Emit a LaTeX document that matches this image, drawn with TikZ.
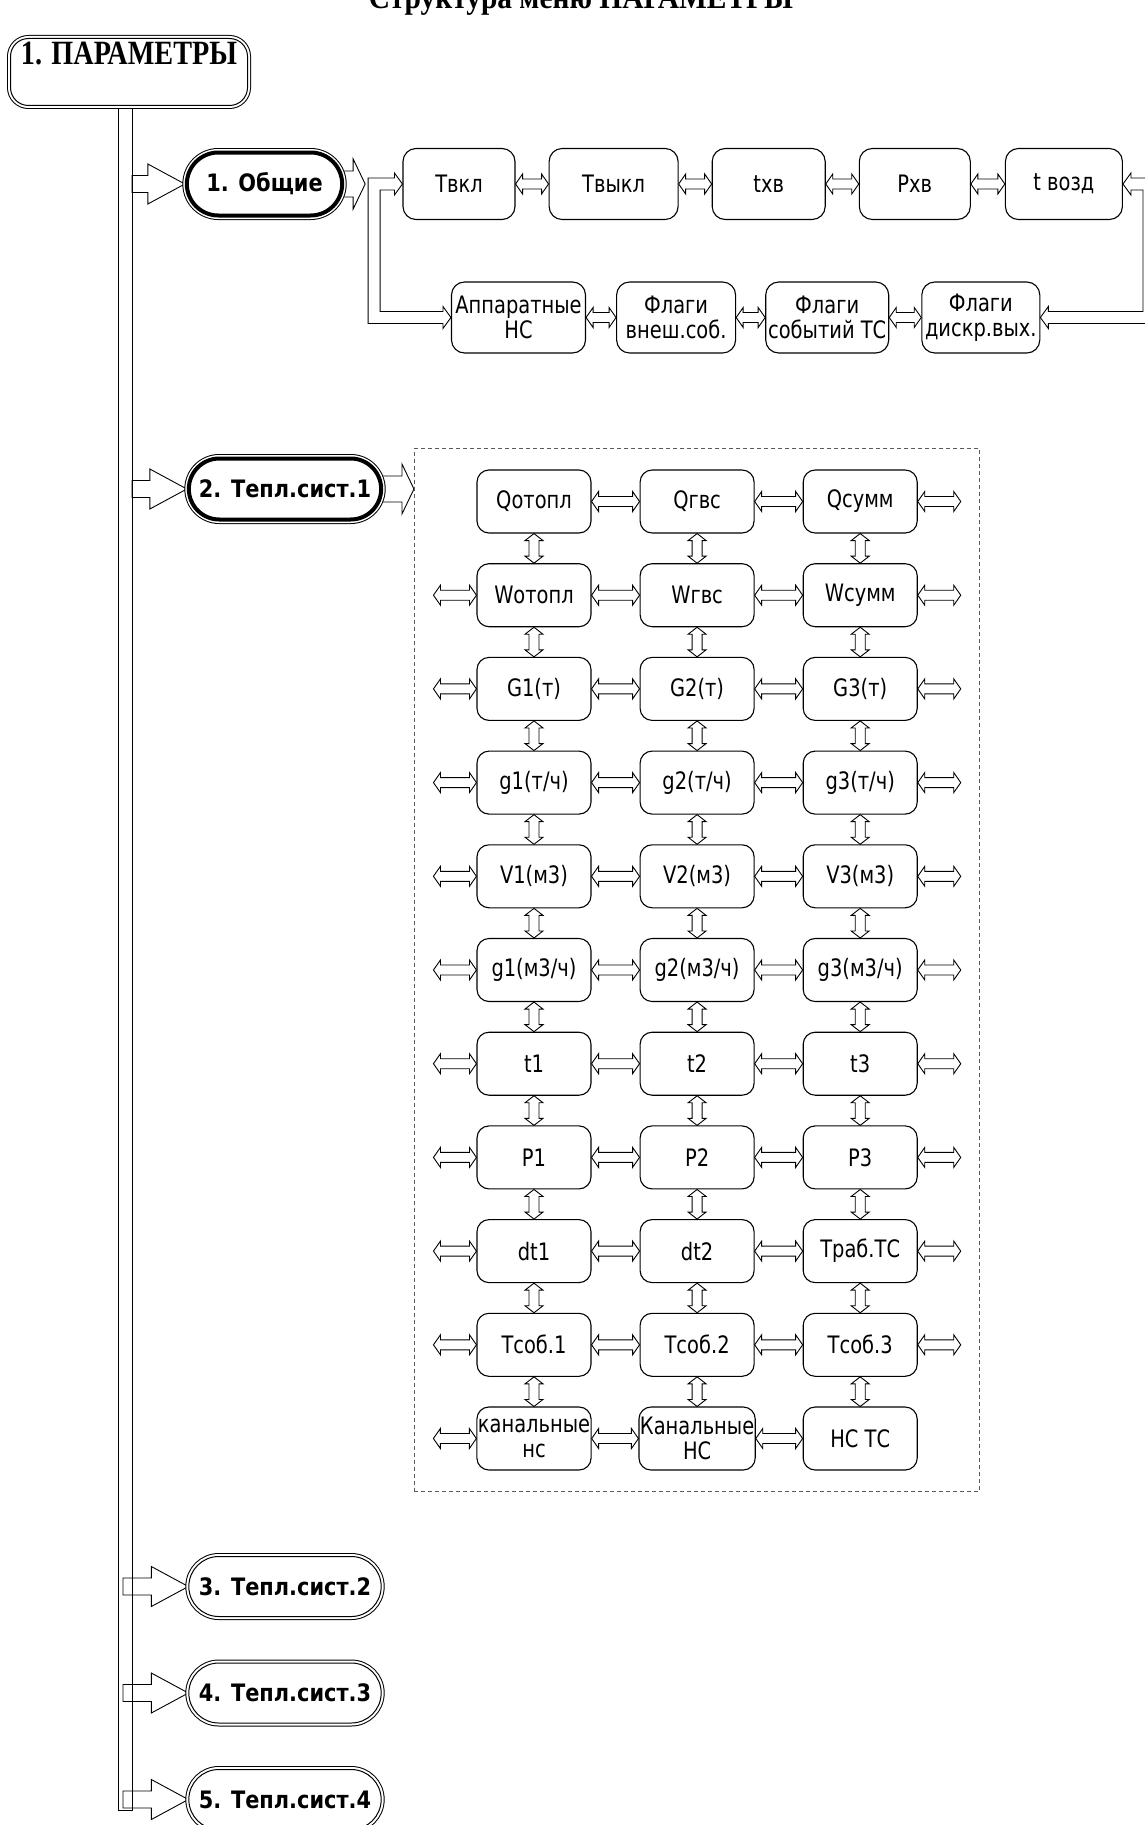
\documentclass[tikz,border=0pt]{standalone}
\usepackage{fontspec}
\usepackage{tikz}
\usetikzlibrary{positioning,calc,fit,backgrounds,shapes.misc}
\newfontfamily\menufont{DejaVu Sans}[FakeStretch=0.81]
\newfontfamily\subfont{DejaVu Sans}[FakeStretch=0.87]
\newfontfamily\headfont{Liberation Serif}[FakeStretch=0.92]
\newfontfamily\rootfont{Liberation Serif}[FakeStretch=0.83]
\definecolor{Frame}{HTML}{5A5A5A}

\begin{document}
\begin{tikzpicture}[
  item/.style={draw,rounded corners=12pt,line width=1.1pt,minimum width=114pt,minimum height=63pt,align=center,inner sep=1pt,font=\menufont\fontsize{24}{25}\selectfont},
  topbox/.style={item,minimum height=71pt,rounded corners=13pt},
  menu/.style={rounded rectangle,draw,fill=white,minimum width=199pt,minimum height=60pt,font=\subfont\bfseries\fontsize{24}{26}\selectfont},
  sub/.style={menu,line width=1pt,preaction={draw,line width=7pt},preaction={draw,white,line width=5pt}},
  subsel/.style={menu,line width=4pt,preaction={draw,line width=9pt},preaction={draw,white,line width=7pt}},
  root/.style={draw,fill=white,rounded corners=18pt,line width=1pt,minimum width=237pt,text height=17pt,text depth=31pt,inner ysep=9.5pt,font=\rootfont\bfseries\fontsize{34}{36}\selectfont,preaction={draw,line width=7pt},preaction={draw,white,line width=5pt}},
  title/.style={inner sep=0pt,font=\headfont\bfseries\fontsize{32}{34}\selectfont},
  frame/.style={draw=Frame,line width=0.8pt,dash pattern=on 4pt off 3pt,inner xsep=62pt,inner ysep=21pt},
  pipe/.style={line width=0.9pt,line join=miter},
  % hollow double arrows between boxes
  lr/.style={pipe,to path={let \p1=(\tikztostart),\p2=(\tikztotarget) in
    (\x1,\y1) -- (\x1+7pt,\y1+10pt) -- (\x1+7pt,\y1+5pt) -- (\x2-7pt,\y1+5pt) -- (\x2-7pt,\y1+10pt) -- (\x2,\y1)
    -- (\x2-7pt,\y1-10pt) -- (\x2-7pt,\y1-5pt) -- (\x1+7pt,\y1-5pt) -- (\x1+7pt,\y1-10pt) -- cycle}},
  ud/.style={pipe,to path={let \p1=(\tikztostart),\p2=(\tikztotarget) in
    (\x1,\y1) -- (\x1+9pt,\y1-7pt) -- (\x1+5pt,\y1-7pt) -- (\x1+5pt,\y2+7pt) -- (\x1+9pt,\y2+7pt) -- (\x1,\y2)
    -- (\x1-9pt,\y2+7pt) -- (\x1-5pt,\y2+7pt) -- (\x1-5pt,\y1-7pt) -- (\x1-9pt,\y1-7pt) -- cycle}},
  branch/.style={pipe,to path={let \p1=(\tikztostart),\p2=(\tikztotarget) in
    (\x1,\y1+8.5pt) -- (\x2-37pt,\y1+8.5pt) -- (\x2-37pt,\y1+20pt) -- (\x2,\y1)
    -- (\x2-37pt,\y1-20pt) -- (\x2-37pt,\y1-8.5pt) -- (\x1,\y1-8.5pt) -- cycle}},
  outarr/.style={pipe,to path={let \p1=(\tikztostart),\p2=(\tikztotarget) in
    (\x1-3pt,\y1+13pt) -- (\x2-12pt,\y1+13pt) -- (\x2-12pt,\y1+25pt) -- (\x2,\y1)
    -- (\x2-12pt,\y1-25pt) -- (\x2-12pt,\y1-13pt) -- (\x1-3pt,\y1-13pt)}}
]
\useasboundingbox (0,0) rectangle (1145pt,-1825pt);

\node[title,anchor=base] (ttl) at (581pt,-9pt) {Структура меню ПАРАМЕТРЫ};
\node[root] (par) at (129pt,-72pt) {1. ПАРАМЕТРЫ};

% submenus
\node[subsel,minimum width=162pt,minimum height=63pt] (obsh) at (264.5pt,-184pt) {1. Общие};
\node[subsel,minimum height=61pt] (ts1) at (285pt,-489pt) {2. Тепл.сист.1};
\node[sub] (ts2) at (285pt,-1586.5pt) {3. Тепл.сист.2};
\node[sub,below=45.5pt of ts2] (ts3) {4. Тепл.сист.3};
\node[sub,below=45.5pt of ts3] (ts4) {5. Тепл.сист.4};

\coordinate (tr) at ([xshift=3pt]par.south);
\coordinate (tb) at ([xshift=-9pt]tr);
\coordinate (tend) at (118pt,-1810pt);
\coordinate[right=21pt of obsh] (jn);

% general settings
\node[topbox,minimum width=112pt] (tvkl) at (459pt,-184pt) {Твкл};
\node[topbox,minimum width=129pt,right=33pt of tvkl] (tvykl) {Твыкл};
\node[topbox,minimum width=113pt,right=33pt of tvykl] (thv) {tхв};
\node[topbox,minimum width=111pt,right=33pt of thv] (rhv) {Рхв};
\node[topbox,minimum width=117pt,right=34pt of rhv] (tvozd) {t возд};
\node[topbox,minimum width=134pt] (appar) at (518.5pt,-317.5pt) {Аппаратные\\НС};
\node[topbox,minimum width=119pt,right=30pt of appar] (fvnesh) {Флаги\\внеш.соб.};
\node[topbox,minimum width=123pt,right=29pt of fvnesh] (fsob) {Флаги\\событий ТС};
\node[topbox,minimum width=118pt,right=32pt of fsob] (fdiskr) {Флаги\\дискр.вых.};

% heat system 1
\node[item] (q1) at (534pt,-501.5pt) {Qотопл};
\node[item,right=48pt of q1] (q2) {Qгвс};
\node[item,right=48pt of q2] (q3) {Qсумм};
\node[item,below=29.6pt of q1] (w1) {Wотопл};
\node[item,below=29.6pt of q2] (w2) {Wгвс};
\node[item,below=29.6pt of q3] (w3) {Wсумм};
\node[item,below=29.6pt of w1] (g1) {G1(т)};
\node[item,below=29.6pt of w2] (g2) {G2(т)};
\node[item,below=29.6pt of w3] (g3) {G3(т)};
\node[item,below=29.6pt of g1] (gt1) {g1(т/ч)};
\node[item,below=29.6pt of g2] (gt2) {g2(т/ч)};
\node[item,below=29.6pt of g3] (gt3) {g3(т/ч)};
\node[item,below=29.6pt of gt1] (v1) {V1(м3)};
\node[item,below=29.6pt of gt2] (v2) {V2(м3)};
\node[item,below=29.6pt of gt3] (v3) {V3(м3)};
\node[item,below=29.6pt of v1] (gm1) {g1(м3/ч)};
\node[item,below=29.6pt of v2] (gm2) {g2(м3/ч)};
\node[item,below=29.6pt of v3] (gm3) {g3(м3/ч)};
\node[item,below=29.6pt of gm1] (t1) {t1};
\node[item,below=29.6pt of gm2] (t2) {t2};
\node[item,below=29.6pt of gm3] (t3) {t3};
\node[item,below=29.6pt of t1] (p1) {P1};
\node[item,below=29.6pt of t2] (p2) {P2};
\node[item,below=29.6pt of t3] (p3) {P3};
\node[item,below=29.6pt of p1] (d1) {dt1};
\node[item,below=29.6pt of p2] (d2) {dt2};
\node[item,below=29.6pt of p3] (d3) {Траб.ТС};
\node[item,below=29.6pt of d1] (s1) {Тсоб.1};
\node[item,below=29.6pt of d2] (s2) {Тсоб.2};
\node[item,below=29.6pt of d3] (s3) {Тсоб.3};
\node[item,below=29.6pt of s1] (k1) {канальные\\нс};
\node[item,below=29.6pt of s2] (k2) {Канальные\\НС};
\node[item,below=29.6pt of s3] (k3) {НС ТС};
\node[frame,fit=(q1)(q3)(k1)] (box) {};

% free ends of the outer arrows
\coordinate[right=43pt of q3] (qr);
\coordinate[left=43pt of w1] (wl);   \coordinate[right=43pt of w3] (wr);
\coordinate[left=43pt of g1] (gl);   \coordinate[right=43pt of g3] (gr);
\coordinate[left=43pt of gt1] (gtl); \coordinate[right=43pt of gt3] (gtr);
\coordinate[left=43pt of v1] (vl);   \coordinate[right=43pt of v3] (vr);
\coordinate[left=43pt of gm1] (gml); \coordinate[right=43pt of gm3] (gmr);
\coordinate[left=43pt of t1] (tl);   \coordinate[right=43pt of t3] (trr);
\coordinate[left=43pt of p1] (pl);   \coordinate[right=43pt of p3] (pr);
\coordinate[left=43pt of d1] (dl);   \coordinate[right=43pt of d3] (dr);
\coordinate[left=43pt of s1] (sl);   \coordinate[right=43pt of s3] (sr);
\coordinate[left=43pt of k1] (kl);

\begin{scope}[on background layer]
\draw[pipe] (tr) -- (tr |- tend) -- (tend) -- ([xshift=-11pt]par.south);
\draw[branch] (obsh -| tr) to (obsh.west);
\draw[branch] (ts1 -| tr) to (ts1.west);
\draw[branch] (tb |- ts2) to (ts2.west);
\draw[branch] (tb |- ts3) to (ts3.west);
\draw[branch] (tb |- ts4) to (ts4.west);
\draw[outarr] (obsh.east) to (jn);
\draw[outarr] (ts1.east) to (ts1.east -| box.west);
\end{scope}

\draw[pipe] let \p1=(tvkl.west), \p2=(appar.west), \p3=(jn) in
  (\x3+3pt,\y1+6pt) -- (\x1-8pt,\y1+6pt) -- (\x1-8pt,\y1+11pt) -- (\p1) -- (\x1-8pt,\y1-11pt) -- (\x1-8pt,\y1-6pt)
  -- (\x3+15pt,\y1-6pt) -- (\x3+15pt,\y2+6pt) -- (\x2-8pt,\y2+6pt) -- (\x2-8pt,\y2+11pt) -- (\p2)
  -- (\x2-8pt,\y2-11pt) -- (\x2-8pt,\y2-6pt) -- (\x3+3pt,\y2-6pt) -- cycle;
\draw[pipe] let \p1=(tvozd.east), \p2=(fdiskr.east) in
  (\p1) -- (\x1+8pt,\y1+11pt) -- (\x1+8pt,\y1+6pt) -- (\x1+32pt,\y1+6pt) -- (\x1+32pt,\y2-6pt)
  -- (\x2+8pt,\y2-6pt) -- (\x2+8pt,\y2-11pt) -- (\p2) -- (\x2+8pt,\y2+11pt) -- (\x2+8pt,\y2+6pt)
  -- (\x1+20pt,\y2+6pt) -- (\x1+20pt,\y1-6pt) -- (\x1+8pt,\y1-6pt) -- (\x1+8pt,\y1-11pt) -- cycle;
\draw[lr] (tvkl.east) to (tvykl.west) (tvykl.east) to (thv.west) (thv.east) to (rhv.west) (rhv.east) to (tvozd.west);
\draw[lr] (appar.east) to (fvnesh.west) (fvnesh.east) to (fsob.west) (fsob.east) to (fdiskr.west);

\draw[lr] (q1.east) to (q2.west) (q2.east) to (q3.west) (q3.east) to (qr);
\draw[lr] (wl) to (w1.west) (w1.east) to (w2.west) (w2.east) to (w3.west) (w3.east) to (wr);
\draw[lr] (gl) to (g1.west) (g1.east) to (g2.west) (g2.east) to (g3.west) (g3.east) to (gr);
\draw[lr] (gtl) to (gt1.west) (gt1.east) to (gt2.west) (gt2.east) to (gt3.west) (gt3.east) to (gtr);
\draw[lr] (vl) to (v1.west) (v1.east) to (v2.west) (v2.east) to (v3.west) (v3.east) to (vr);
\draw[lr] (gml) to (gm1.west) (gm1.east) to (gm2.west) (gm2.east) to (gm3.west) (gm3.east) to (gmr);
\draw[lr] (tl) to (t1.west) (t1.east) to (t2.west) (t2.east) to (t3.west) (t3.east) to (trr);
\draw[lr] (pl) to (p1.west) (p1.east) to (p2.west) (p2.east) to (p3.west) (p3.east) to (pr);
\draw[lr] (dl) to (d1.west) (d1.east) to (d2.west) (d2.east) to (d3.west) (d3.east) to (dr);
\draw[lr] (sl) to (s1.west) (s1.east) to (s2.west) (s2.east) to (s3.west) (s3.east) to (sr);
\draw[lr] (kl) to (k1.west) (k1.east) to (k2.west) (k2.east) to (k3.west);

\draw[ud] (q1.south) to (w1.north) (w1.south) to (g1.north) (g1.south) to (gt1.north) (gt1.south) to (v1.north)
  (v1.south) to (gm1.north) (gm1.south) to (t1.north) (t1.south) to (p1.north) (p1.south) to (d1.north)
  (d1.south) to (s1.north) (s1.south) to (k1.north);
\draw[ud] (q2.south) to (w2.north) (w2.south) to (g2.north) (g2.south) to (gt2.north) (gt2.south) to (v2.north)
  (v2.south) to (gm2.north) (gm2.south) to (t2.north) (t2.south) to (p2.north) (p2.south) to (d2.north)
  (d2.south) to (s2.north) (s2.south) to (k2.north);
\draw[ud] (q3.south) to (w3.north) (w3.south) to (g3.north) (g3.south) to (gt3.north) (gt3.south) to (v3.north)
  (v3.south) to (gm3.north) (gm3.south) to (t3.north) (t3.south) to (p3.north) (p3.south) to (d3.north)
  (d3.south) to (s3.north) (s3.south) to (k3.north);
\end{tikzpicture}
\end{document}
